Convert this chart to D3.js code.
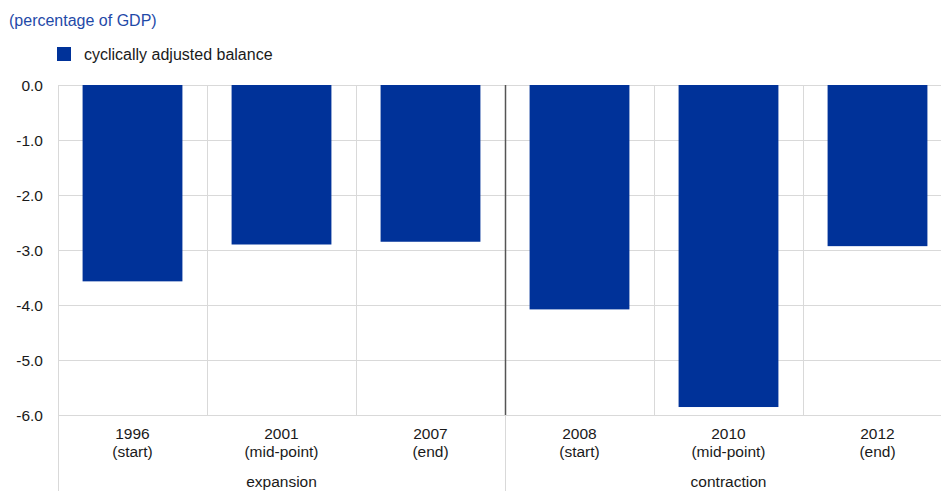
<!DOCTYPE html>
<html><head><meta charset="utf-8">
<script src="https://cdn.jsdelivr.net/npm/d3@7"></script>
<style>body{margin:0;background:#fff;} text{font-family:"Liberation Sans",Arial,sans-serif;}</style>
</head><body><svg id="c" width="941" height="502"></svg>
<script>
const years = ["1996","2001","2007","2008","2010","2012"];
const phases = ["(start)","(mid-point)","(end)","(start)","(mid-point)","(end)"];
const groups = ["expansion","contraction"];
const values = [-3.57,-2.90,-2.85,-4.08,-5.855,-2.93];
const yTicks = [0,-1,-2,-3,-4,-5,-6];
const seriesName = "cyclically adjusted balance";
const title = "(percentage of GDP)";

(function(){
const svg = d3.select("#c");
const L = 58, T = 85, B = 415, bandW = 149;
const x = d3.scaleBand().domain(d3.range(6)).range([L, L + bandW*6]).paddingInner(0.33).paddingOuter(0.165);
const y = d3.scaleLinear().domain([0,-6]).range([T,B]);
const blue = "#003299", grid = "#d9d9d9", ink = "#1a1a1a";

// title & legend
svg.append("text").attr("x",9).attr("y",26).attr("fill","#1f4aa8").attr("font-size",16).text(title);
svg.append("rect").attr("x",57).attr("y",47).attr("width",14).attr("height",14).attr("fill",blue);
svg.append("text").attr("x",84).attr("y",59.5).attr("font-size",16).attr("fill",ink).text(seriesName);

// horizontal grid
svg.append("g").selectAll("line").data(yTicks).join("line")
  .attr("x1",L).attr("x2",941).attr("y1",d=>y(d)+0.5).attr("y2",d=>y(d)+0.5)
  .attr("stroke",grid).attr("stroke-width",1);
// vertical grid
const bounds = d3.range(7).map(i => L + bandW*i);
svg.append("g").selectAll("line").data(bounds).join("line")
  .attr("x1",d=>d+0.5).attr("x2",d=>d+0.5).attr("y1",T)
  .attr("y2",(d,i)=> (i===0||i===3) ? 491 : B)
  .attr("stroke",grid);
// dark separator
svg.append("line").attr("x1",bounds[3]+0.5).attr("x2",bounds[3]+0.5).attr("y1",T).attr("y2",B)
  .attr("stroke","#555").attr("stroke-width",1.5);

// y axis labels
svg.append("g").selectAll("text").data(yTicks).join("text")
  .attr("x",43).attr("y",d=>y(d)+5.5).attr("text-anchor","end").attr("font-size",15.5).attr("fill",ink)
  .text(d=>d3.format(".1f")(d).replace("−","-"));

// bars
svg.append("g").selectAll("rect").data(values).join("rect")
  .attr("x",(d,i)=>x(i)).attr("width",x.bandwidth())
  .attr("y",y(0)).attr("height",d=>y(d)-y(0)).attr("fill",blue);

// x labels
const xl = svg.append("g").attr("font-size",15.5).attr("fill",ink).attr("text-anchor","middle");
years.forEach((yr,i)=>{
  const cx = x(i)+x.bandwidth()/2;
  xl.append("text").attr("x",cx).attr("y",439).text(yr);
  xl.append("text").attr("x",cx).attr("y",457).text(phases[i]);
});
groups.forEach((g,i)=>{
  xl.append("text").attr("x",(bounds[i*3]+bounds[i*3+3])/2).attr("y",486.5).text(g);
});
})();
</script></body></html>
